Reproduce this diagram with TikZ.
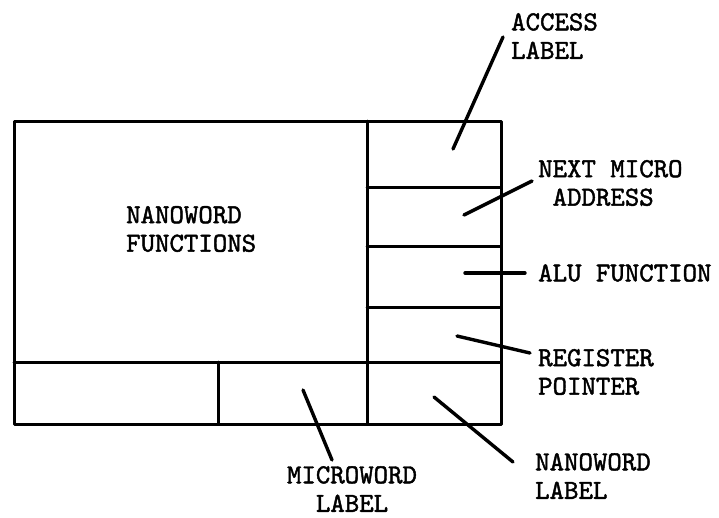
\documentclass[tikz,border=0pt]{standalone}
\usepackage{fontspec}
\newfontfamily\lblfont[FakeBold=1.6]{lmmono10-regular.otf}
\begin{document}
\begin{tikzpicture}[x=1pt,y=-1pt,
  frame/.style={line width=3pt,line cap=round,line join=round},
  leader/.style={line width=3.4pt,line cap=round},
  lbl/.style={font=\lblfont\fontsize{27.5}{28.5}\selectfont,inner sep=0pt,align=left,anchor=west}]
\useasboundingbox (0,0) rectangle (719,517);
% frame
\draw[frame] (14,121) rectangle (501,424);
\draw[frame] (367,121) -- (367,424);
\draw[frame] (14,362) -- (501,362);
\draw[frame] (218,362) -- (218,424);
\draw[frame] (367,187) -- (501,187);
\draw[frame] (367,246) -- (501,246);
\draw[frame] (367,307) -- (501,307);
% labels
\node[lbl] (func) at (126,229) {NANOWORD\\FUNCTIONS};
\node[lbl] (acc) at (511,36) {ACCESS\\LABEL};
\node[lbl] (next) at (538,183) {NEXT MICRO\\\hphantom{N}ADDRESS};
\node[lbl] (alu) at (538,273) {ALU FUNCTION};
\node[lbl] (reg) at (538,372) {REGISTER\\POINTER};
\node[lbl] (nlab) at (535,476) {NANOWORD\\LABEL};
\node[lbl,align=center,anchor=center] (mlab) at (352,489) {MICROWORD\\LABEL};
% leader coordinates
\coordinate (accA) at (503,37);  \coordinate (accB) at (453,149);
\coordinate (nextA) at (532,181); \coordinate (nextB) at (464,215);
\coordinate (aluA) at (525,273); \coordinate (aluB) at (465,273);
\coordinate (regA) at (530,353); \coordinate (regB) at (457,336);
\coordinate (nlabA) at (513,462); \coordinate (nlabB) at (434,397);
\coordinate (mlabA) at (332,460); \coordinate (mlabB) at (303,390);
\draw[leader] (accA) -- (accB);
\draw[leader] (nextA) -- (nextB);
\draw[leader] (aluA) -- (aluB);
\draw[leader] (regA) -- (regB);
\draw[leader] (nlabA) -- (nlabB);
\draw[leader] (mlabA) -- (mlabB);
\end{tikzpicture}
\end{document}
